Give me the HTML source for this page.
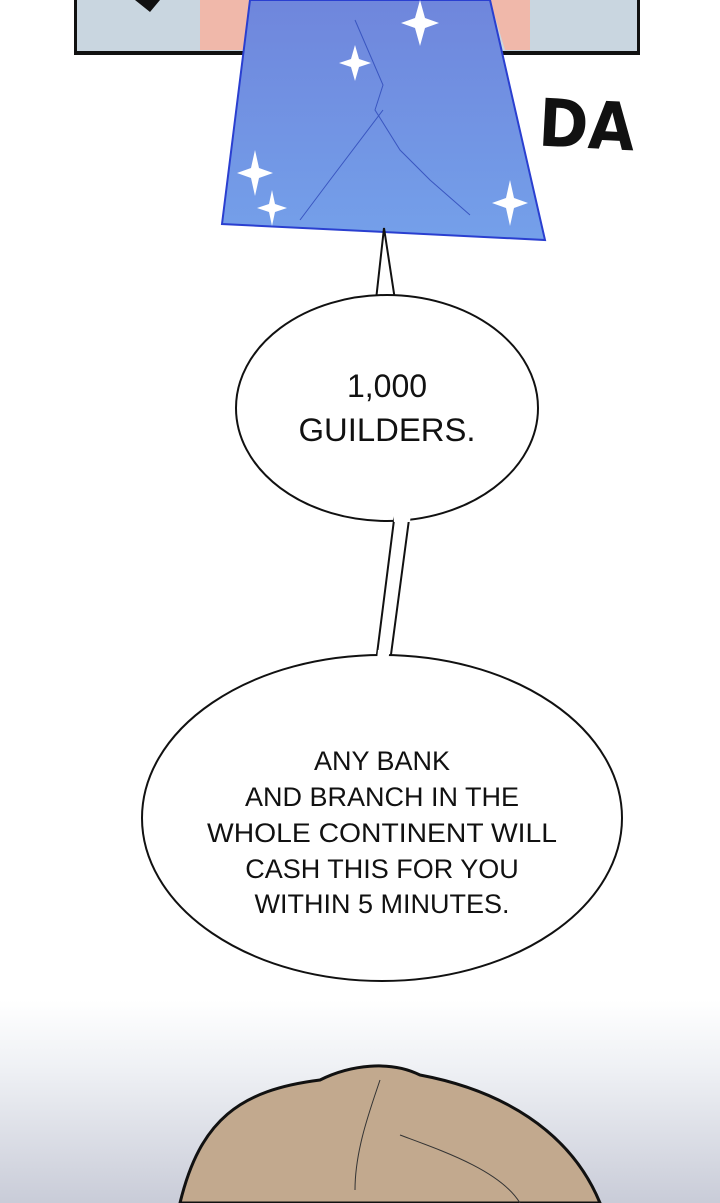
<!DOCTYPE html>
<html><head><meta charset="utf-8"><style>
html,body{margin:0;padding:0;background:#fff;}
svg{display:block}
text{font-family:"Liberation Sans","DejaVu Sans",sans-serif;fill:#111;text-anchor:middle}
</style></head><body>
<svg width="720" height="1203" viewBox="0 0 720 1203" xmlns="http://www.w3.org/2000/svg">
<defs>
<linearGradient id="bg" x1="0" y1="0" x2="0" y2="1">
<stop offset="0" stop-color="#ffffff"/>
<stop offset="0.35" stop-color="#eef0f4"/>
<stop offset="1" stop-color="#c9ccd8"/>
</linearGradient>
<linearGradient id="card" x1="0" y1="0" x2="0" y2="1">
<stop offset="0" stop-color="#6f86dc"/>
<stop offset="1" stop-color="#74a0ea"/>
</linearGradient>
</defs>
<rect x="0" y="1000" width="720" height="203" fill="url(#bg)"/>
<rect x="74" y="0" width="566" height="55" fill="#c9d6e0"/>
<path d="M200 0 L250 0 L245 50 L200 50Z" fill="#f0b8aa"/>
<path d="M490 0 L530 0 L530 50 L505 50Z" fill="#f0b8aa"/>
<rect x="74" y="0" width="3" height="55" fill="#111"/>
<rect x="637" y="0" width="3" height="55" fill="#111"/>
<rect x="74" y="51" width="566" height="4" fill="#111"/>
<path d="M135 0 L160 0 L150 12 Z" fill="#111"/>
<path d="M250 0 L490 0 L545 240 L222 224 Z" fill="url(#card)" stroke="#2a3fd0" stroke-width="2"/>
<path d="M355 20 L383 85 L375 110 L400 150 L430 180 L470 215 M383 110 L330 180 L300 220" stroke="#3a56c0" stroke-width="1" fill="none"/>
<path d="M355 45 l4 14 l12 4 l-12 4 l-4 14 l-4 -14 l-12 -4 l12 -4Z M255 150 l4 18 l14 5 l-14 5 l-4 18 l-4 -18 l-14 -5 l14 -5Z M272 190 l3 14 l12 4 l-12 4 l-3 14 l-3 -14 l-12 -4 l12 -4Z M510 180 l4 18 l14 5 l-14 5 l-4 18 l-4 -18 l-14 -5 l14 -5Z M420 0 l5 18 l14 5 l-14 5 l-5 18 l-5 -18 l-14 -5 l14 -5Z" fill="#fff"/>
<text x="587" y="148" style="font-size:66px;font-weight:bold;font-family:'DejaVu Sans',sans-serif" transform="rotate(3 587 120)" textLength="96" lengthAdjust="spacingAndGlyphs">DA</text>
<path d="M180 1203 C200 1120 240 1090 320 1080 C350 1065 390 1060 420 1075 C500 1090 570 1130 600 1203 Z" fill="#c2a98e" stroke="#111" stroke-width="3"/>
<path d="M380 1080 C370 1110 355 1150 355 1190 M400 1135 C440 1150 500 1170 520 1203" stroke="#333" stroke-width="1" fill="none"/>
<path d="M376 300 L384 228 L395 300 Z" fill="#fff" stroke="#111" stroke-width="2"/>
<ellipse cx="387" cy="408" rx="151" ry="113" fill="#fff" stroke="#111" stroke-width="2"/>
<path d="M378 300 L393 300" stroke="#fff" stroke-width="4"/>
<path d="M395 512 L376 662 L390 662 L410 512 Z" fill="#fff" stroke="#111" stroke-width="2"/>
<ellipse cx="382" cy="818" rx="240" ry="163" fill="#fff" stroke="#111" stroke-width="2"/>
<path d="M392 505 L412 505 L410 522 L394 522Z" fill="#fff"/>
<path d="M378 650 L390 650 L388 660 L377 660Z" fill="#fff"/>
<text x="387" y="397" style="font-size:32px">1,000</text>
<text x="387" y="441" style="font-size:32px" textLength="177" lengthAdjust="spacingAndGlyphs">GUILDERS.</text>
<text x="382" y="770" style="font-size:27px">ANY BANK</text>
<text x="382" y="806" style="font-size:27px">AND BRANCH IN THE</text>
<text x="382" y="842" style="font-size:27px" textLength="350" lengthAdjust="spacingAndGlyphs">WHOLE CONTINENT WILL</text>
<text x="382" y="878" style="font-size:27px">CASH THIS FOR YOU</text>
<text x="382" y="913" style="font-size:27px">WITHIN 5 MINUTES.</text>
</svg>
</body></html>
